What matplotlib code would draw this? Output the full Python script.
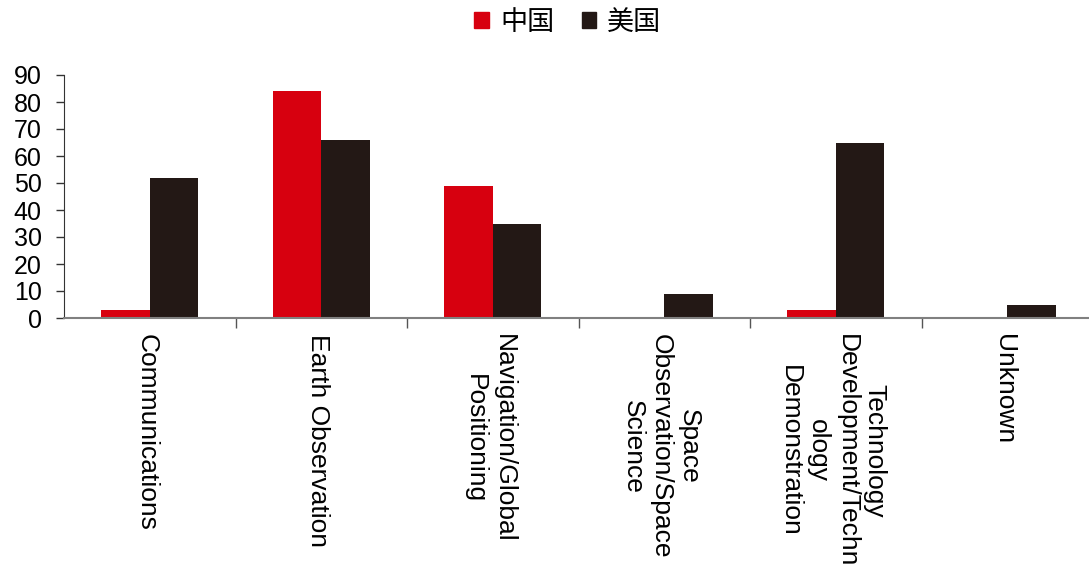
import numpy as np
import matplotlib.pyplot as plt
from matplotlib.patches import Patch

plt.rcParams["font.family"] = ["Liberation Sans", "Noto Sans CJK SC", "DejaVu Sans"]

categories = [
    "Communications",
    "Earth Observation",
    "Navigation/Global\nPositioning",
    "Space\nObservation/Space\nScience",
    "Technology\nDevelopment/Techn\nology\nDemonstration",
    "Unknown",
]
china = [3, 84, 49, 0, 3, 0]
usa = [52, 66, 35, 9, 65, 5]
series_names = ["中国", "美国"]

red = "#D7000F"
dark = "#231815"

fig = plt.figure(figsize=(10.89, 5.71), dpi=100)
ax = fig.add_axes([64 / 1089, (571 - 318) / 571, (6 * 171.5) / 1089, 243 / 571])

x = np.arange(len(categories))
w = 0.283
ax.bar(x - w / 2, china, w, color=red, edgecolor="none")
ax.bar(x + w / 2, usa, w, color=dark, edgecolor="none")

ax.set_xlim(-0.5, len(categories) - 0.5)
ax.set_ylim(0, 90)
ax.set_yticks(range(0, 91, 10))
ax.tick_params(axis="y", labelsize=18, length=6, width=1, color="#333333", pad=10)

ax.set_xticks(x)
ax.set_xticklabels([])
ax.tick_params(axis="x", which="major", length=0)
ax.set_xticks(np.arange(0.5, len(categories) - 0.5, 1), minor=True)
ax.tick_params(axis="x", which="minor", length=7, width=1, color="#555555", direction="out")

for xi, lab in zip(x, categories):
    ax.text(xi - 0.02, -6, lab, rotation=-90, ha="center", va="top", multialignment="center",
            fontsize=19, linespacing=1.22, transform=ax.transData, clip_on=False)

for s in ["top", "right"]:
    ax.spines[s].set_visible(False)
ax.spines["left"].set_color("#333333")
ax.spines["bottom"].set_color("#808080")
ax.spines["bottom"].set_linewidth(1.5)

handles = [Patch(color=red), Patch(color=dark)]
fig.legend(handles, series_names, loc="center", bbox_to_anchor=(568 / 1089, 1 - 22 / 571),
           ncol=2, frameon=False, handlelength=0.55, handleheight=0.55,
           handletextpad=0.4, columnspacing=1.0, prop={"family": ["Noto Sans CJK SC"], "size": 19.5})

fig.savefig("out.png", dpi=100)
